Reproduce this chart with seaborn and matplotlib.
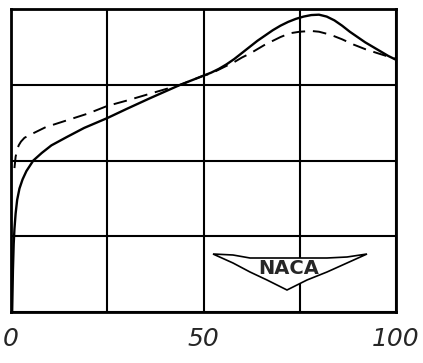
import numpy as np
import matplotlib.pyplot as plt
import seaborn as sns
from matplotlib.patches import Polygon

sns.set_style("white")

# distance along chord (percent) and the two curves
x_solid = [0.3, 0.5, 0.7, 0.9, 1.2, 1.6, 2.2, 3.0, 4.0, 5.8, 8.0, 10.5, 14.5, 19.0,
           25.0, 30.0, 36.0, 44.0, 50.0, 52.0, 54.0, 56.0, 58.0, 60.0, 62.0, 64.0,
           66.0, 68.0, 70.0, 72.0, 74.0, 76.0, 78.0, 80.0, 82.0, 84.0, 86.0, 88.0,
           90.0, 92.0, 94.0, 96.0, 98.0, 100.0]
y_solid = [0.0, 0.55, 0.9, 1.1, 1.3, 1.48, 1.63, 1.75, 1.86, 2.0, 2.1, 2.2, 2.31, 2.43,
           2.56, 2.68, 2.82, 3.0, 3.12, 3.16, 3.21, 3.27, 3.34, 3.42, 3.5, 3.58,
           3.65, 3.72, 3.78, 3.83, 3.87, 3.9, 3.92, 3.925, 3.9, 3.85, 3.78, 3.7,
           3.63, 3.56, 3.5, 3.44, 3.38, 3.33]

x_dash = [0.9, 1.2, 1.6, 2.0, 2.6, 3.5, 5.8, 9.0, 14.5, 20.0, 25.0, 30.0, 36.0,
          44.0, 50.0, 52.0, 54.0, 56.0, 58.0, 60.0, 62.0, 64.0, 66.0, 68.0, 70.0,
          72.5, 75.0, 78.0, 80.0, 83.0, 86.0, 89.0, 92.0, 95.0, 100.0]
y_dash = [1.9, 2.05, 2.14, 2.2, 2.25, 2.3, 2.36, 2.44, 2.53, 2.62, 2.72, 2.79, 2.88,
          3.0, 3.12, 3.15, 3.2, 3.25, 3.3, 3.36, 3.41, 3.47, 3.53, 3.58, 3.63,
          3.68, 3.70, 3.71, 3.70, 3.66, 3.6, 3.53, 3.47, 3.42, 3.34]

x_ticks = [0, 25, 50, 75, 100]
x_tick_labels = ["0", "", "50", "", "100"]
y_ticks = [0, 1, 2, 3, 4]

fig = plt.figure(figsize=(4.23, 3.63), dpi=100)
ax = fig.add_axes([11 / 423, 51 / 363, 385 / 423, 303 / 363])

sns.lineplot(x=x_solid, y=y_solid, color="black", lw=1.7, ax=ax, sort=False)
sns.lineplot(x=x_dash, y=y_dash, color="black", lw=1.4, ax=ax, sort=False)
ax.lines[-1].set_dashes((7, 4))

ax.set_xlim(0, 100)
ax.set_ylim(0, 4)
ax.set_xticks(x_ticks)
ax.set_xticklabels(x_tick_labels, fontsize=18, fontstyle="italic",
                   family="DejaVu Sans", fontweight=200)
ax.set_yticks(y_ticks)
ax.set_yticklabels([])
ax.tick_params(length=0, pad=11)
ax.grid(True, color="black", lw=1.5)
for s in ax.spines.values():
    s.set_color("black")
    s.set_linewidth(2)

# NACA wing emblem
def px(x, y):
    return ((x - 11) / 385, (312 - y) / 303)

wing = [px(213, 254), px(233, 255), px(250, 258), px(288, 258), px(327, 258),
        px(347, 257), px(367, 254), px(347, 263), px(327, 272), px(307, 280),
        px(287, 290), px(267, 280), px(250, 272), px(233, 263)]
ax.add_patch(Polygon(wing, closed=True, transform=ax.transAxes, facecolor="white",
                     edgecolor="black", lw=1.2, zorder=3))
ax.text(*px(289, 269), "NACA", transform=ax.transAxes, ha="center", va="center",
        fontsize=14, fontweight="bold", family="DejaVu Sans", zorder=4)

plt.savefig("out.png", dpi=100)
